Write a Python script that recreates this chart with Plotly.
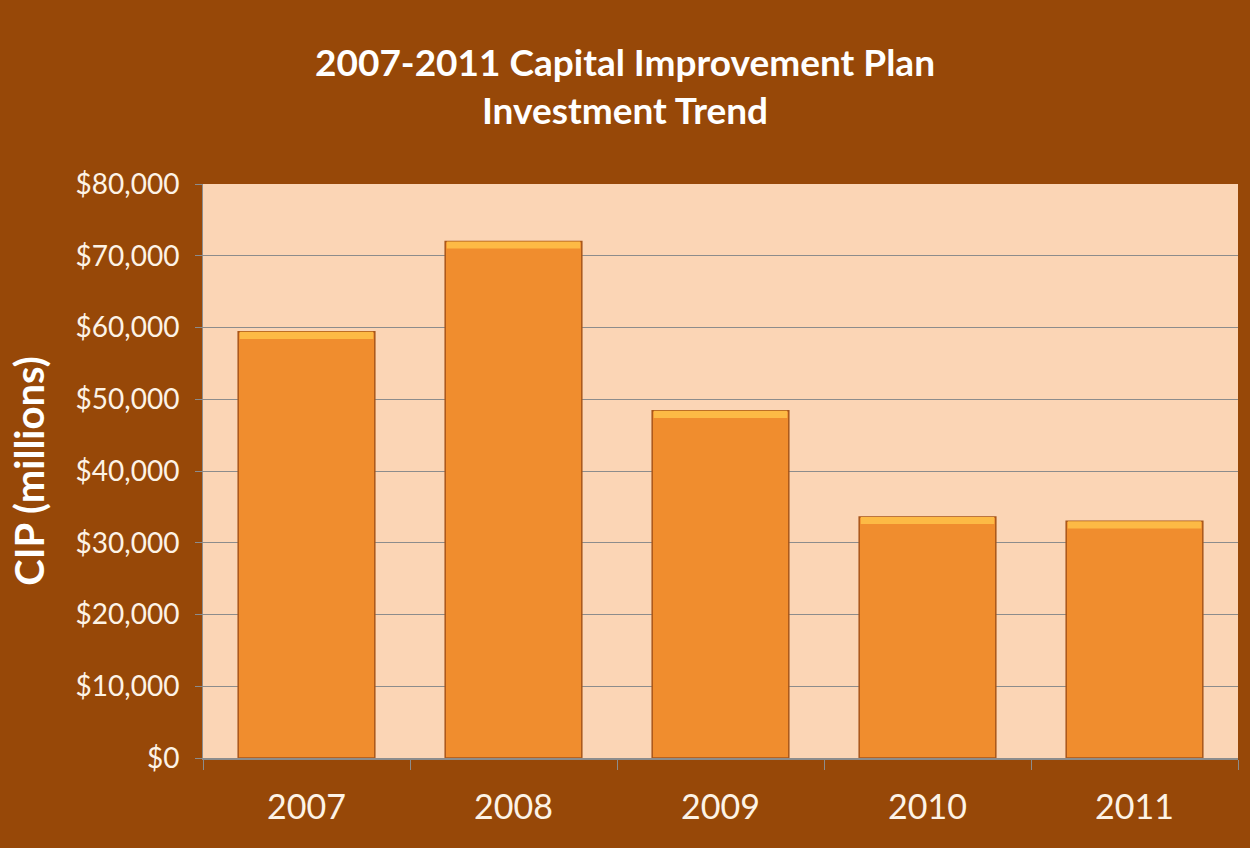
import plotly.graph_objects as go

years = ["2007", "2008", "2009", "2010", "2011"]
cip = [59400, 72000, 48400, 33600, 33000]
y_ticks = [0, 10000, 20000, 30000, 40000, 50000, 60000, 70000, 80000]
y_labels = ["$0", "$10,000", "$20,000", "$30,000", "$40,000", "$50,000", "$60,000", "$70,000", "$80,000"]

font_family = "Lato, 'Open Sans', sans-serif"
text_col = "#FDF3E6"

fig = go.Figure()
fig.add_trace(go.Bar(
    x=years, y=cip,
    marker=dict(color="#F08D2E", line=dict(color="#A8561A", width=1.5)),
    width=0.66,
    hoverinfo="x+y",
))
# top bevel highlight derived from the data
fig.add_trace(go.Bar(
    x=years, y=[1000] * len(years), base=[v - 1000 for v in cip],
    marker=dict(color="#FDBA45", line=dict(width=0)),
    width=0.645, hoverinfo="skip",
))

fig.update_layout(
    width=1250, height=848,
    barmode="overlay",
    showlegend=False,
    paper_bgcolor="#974808",
    plot_bgcolor="#FBD5B5",
    margin=dict(l=203, r=12, t=184, b=90),
    title=dict(
        text="<b>2007-2011 Capital Improvement Plan<br>Investment Trend</b>",
        x=0.5, xanchor="center", y=0.91, yanchor="middle",
        font=dict(family=font_family, size=37, color="#FFFFFF"),
    ),
    xaxis=dict(
        tickfont=dict(family=font_family, size=34, color=text_col),
        showline=True, linecolor="#8C8C8C", linewidth=1.5,
        ticks="outside", tickson="boundaries", ticklen=10, tickcolor="#8C8C8C",
        ticklabelstandoff=18,
        showgrid=False,
    ),
    yaxis=dict(
        range=[0, 80000],
        tickvals=y_ticks, ticktext=y_labels,
        tickfont=dict(family=font_family, size=28, color=text_col),
        showgrid=True, gridcolor="#8C8C8C", gridwidth=1.2,
        ticks="outside", ticklen=7, tickcolor="#8C8C8C",
        ticklabelstandoff=10,
        showline=True, linecolor="#8C8C8C",
        zeroline=False,
        title=dict(text="<b>CIP (millions)</b>", font=dict(family=font_family, size=40, color="#FFFFFF"), standoff=18),
    ),
)

fig.write_html("out.html", config={"displayModeBar": False})
with open("out.html", encoding="utf-8") as f:
    html = f.read()
html = html.replace("<head>", "<head><style>html,body{margin:0;padding:0;overflow:hidden;}</style>", 1)
with open("out.html", "w", encoding="utf-8") as f:
    f.write(html)
